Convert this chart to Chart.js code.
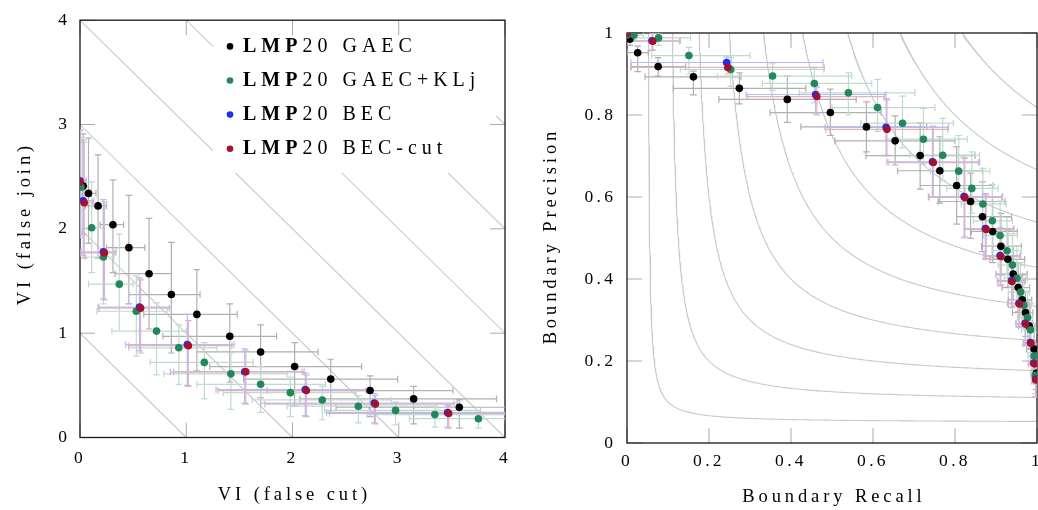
<!DOCTYPE html>
<html>
<head>
<meta charset="utf-8">
<script src="https://cdn.jsdelivr.net/npm/chart.js@4.4.1/dist/chart.umd.min.js"></script>
<style>
  html, body { margin:0; padding:0; background:#ffffff; width:1038px; height:510px; overflow:hidden; }
  canvas { position:absolute; top:0; }
  #viChart { left:0; }
  #bdChart { left:520px; }
</style>
</head>
<body>
<canvas id="viChart" width="520" height="510"></canvas>
<canvas id="bdChart" width="545" height="510"></canvas>
<script>
// ---------------- ticks / labels ----------------
const viTicks = [0, 1, 2, 3, 4];
const viTickLabels = ['0', '1', '2', '3', '4'];
const bdTicks = [0, 0.2, 0.4, 0.6, 0.8, 1];
const bdTickLabels = ['0', '0.2', '0.4', '0.6', '0.8', '1'];
const viSumLevels = [1, 2, 3, 4, 5, 6, 7];          // iso lines  cut + join = c
const fLevels = [0.1, 0.2, 0.3, 0.4, 0.5, 0.6, 0.7, 0.8, 0.9]; // iso F-measure curves
const legendBold = 'LMP';
const legendRest = ['20 GAEC', '20 GAEC+KLj', '20 BEC', '20 BEC-cut'];
const viTitleX = 'VI (false cut)';
const viTitleY = 'VI (false join)';
const bdTitleX = 'Boundary Recall';
const bdTitleY = 'Boundary Precision';

// ---------------- left panel: VI ----------------
const viGaecCut    = [0.03,0.08,0.17,0.31,0.46,0.65,0.86,1.10,1.41,1.70,2.02,2.36,2.73,3.14,3.57];
const viGaecJoin   = [2.41,2.34,2.22,2.04,1.82,1.57,1.37,1.18,0.97,0.82,0.68,0.56,0.45,0.37,0.29];
const viGaecCutLo  = [0.00,0.02,0.05,0.19,0.25,0.33,0.46,0.60,0.78,1.10,1.22,1.54,1.76,2.07,2.41];
const viGaecCutHi  = [0.08,0.15,0.25,0.41,0.61,0.86,1.13,1.48,1.85,2.24,2.65,2.99,3.51,3.92,4.30];
const viGaecJoinLo = [1.95,1.86,1.72,1.58,1.28,1.04,0.81,0.64,0.53,0.38,0.30,0.23,0.20,0.13,0.09];
const viGaecJoinHi = [2.91,2.87,2.71,2.47,2.32,2.10,1.87,1.61,1.28,1.08,0.91,0.75,0.59,0.49,0.36];

const viKljCut    = [0.01,0.11,0.22,0.37,0.53,0.72,0.93,1.17,1.42,1.70,1.98,2.28,2.62,2.97,3.34,3.75];
const viKljJoin   = [2.40,2.01,1.73,1.47,1.21,1.02,0.86,0.72,0.61,0.51,0.43,0.36,0.30,0.26,0.22,0.18];
const viKljCutLo  = [0.00,0.03,0.05,0.08,0.16,0.30,0.46,0.66,0.79,1.10,1.35,1.62,1.95,2.30,2.70,3.10];
const viKljCutHi  = [0.05,0.22,0.32,0.50,0.82,1.00,1.29,1.63,1.95,2.31,2.60,2.93,3.36,3.77,4.10,4.40];
const viKljJoinLo = [1.92,1.58,1.28,1.02,0.78,0.60,0.51,0.37,0.27,0.24,0.20,0.17,0.14,0.12,0.10,0.09];
const viKljJoinHi = [2.88,2.45,2.20,1.95,1.55,1.29,1.08,0.91,0.81,0.68,0.58,0.49,0.40,0.34,0.29,0.24];

const viBecCut    = [0.00,0.03,0.22,0.56,1.01,1.55,2.12,2.77,3.46];
const viBecJoin   = [2.46,2.27,1.78,1.25,0.89,0.63,0.46,0.33,0.24];
const viBecCutLo  = [0.00,0.00,0.01,0.17,0.43,0.85,1.28,1.70,2.32];
const viBecCutHi  = [0.06,0.13,0.34,0.86,1.45,2.11,2.72,3.55,4.10];
const viBecJoinLo = [1.96,1.74,1.33,0.83,0.50,0.33,0.21,0.14,0.10];
const viBecJoinHi = [2.95,2.85,2.28,1.53,1.18,0.85,0.62,0.42,0.31];

const viBcutCut    = [0.00,0.04,0.23,0.57,1.02,1.56,2.13,2.78,3.47];
const viBcutJoin   = [2.45,2.25,1.77,1.24,0.88,0.63,0.45,0.32,0.23];
const viBcutCutLo  = [0.00,0.00,0.01,0.18,0.46,0.88,1.30,1.74,2.35];
const viBcutCutHi  = [0.05,0.12,0.33,0.84,1.43,2.09,2.69,3.52,4.07];
const viBcutJoinLo = [1.95,1.72,1.32,0.81,0.49,0.32,0.20,0.13,0.09];
const viBcutJoinHi = [2.94,2.83,2.26,1.51,1.12,0.83,0.60,0.40,0.30];

// ---------------- right panel: boundary P/R ----------------
const bdGaecRec    = [0.007,0.026,0.076,0.162,0.274,0.391,0.496,0.584,0.654,0.715,0.763,0.804,0.838,0.867,0.892,0.912,0.929,0.942,0.954,0.964,0.972,0.981,0.993,0.998];
const bdGaecPrec   = [0.985,0.952,0.918,0.893,0.865,0.838,0.806,0.771,0.737,0.701,0.664,0.628,0.589,0.552,0.516,0.480,0.448,0.412,0.379,0.349,0.318,0.285,0.229,0.170];
const bdGaecRecLo  = [0.000,0.000,0.009,0.044,0.113,0.224,0.349,0.424,0.507,0.583,0.660,0.715,0.759,0.804,0.840,0.865,0.885,0.900,0.915,0.930,0.940,0.955,0.975,0.985];
const bdGaecRecHi  = [0.020,0.052,0.143,0.278,0.436,0.559,0.620,0.731,0.800,0.849,0.867,0.893,0.922,0.938,0.952,0.962,0.970,0.976,0.982,0.987,0.990,0.995,1.000,1.000];
const bdGaecPrecLo = [0.970,0.906,0.895,0.849,0.827,0.782,0.750,0.710,0.678,0.619,0.585,0.534,0.499,0.467,0.440,0.410,0.380,0.350,0.320,0.290,0.260,0.230,0.180,0.130];
const bdGaecPrecHi = [1.000,0.968,0.940,0.907,0.903,0.895,0.863,0.832,0.798,0.781,0.747,0.723,0.658,0.637,0.600,0.560,0.520,0.480,0.440,0.410,0.370,0.340,0.280,0.210];

const bdKljRec    = [0.000,0.017,0.077,0.151,0.253,0.355,0.457,0.540,0.611,0.672,0.723,0.770,0.809,0.841,0.868,0.891,0.910,0.927,0.940,0.951,0.960,0.968,0.977,0.984,0.993,0.996];
const bdKljPrec   = [0.995,0.995,0.988,0.945,0.911,0.895,0.877,0.854,0.818,0.780,0.741,0.702,0.663,0.621,0.583,0.542,0.506,0.469,0.434,0.402,0.368,0.336,0.306,0.276,0.212,0.165];
const bdKljRecLo  = [0.000,0.000,0.020,0.060,0.130,0.220,0.330,0.420,0.500,0.570,0.630,0.690,0.740,0.780,0.815,0.845,0.870,0.890,0.905,0.920,0.930,0.940,0.952,0.962,0.978,0.985];
const bdKljRecHi  = [0.020,0.040,0.155,0.300,0.480,0.548,0.597,0.702,0.751,0.796,0.830,0.860,0.885,0.905,0.925,0.940,0.952,0.962,0.970,0.976,0.982,0.986,0.990,0.995,1.000,1.000];
const bdKljPrecLo = [0.985,0.985,0.970,0.900,0.870,0.860,0.830,0.800,0.760,0.720,0.680,0.640,0.600,0.560,0.520,0.480,0.450,0.410,0.380,0.350,0.310,0.280,0.250,0.220,0.160,0.120];
const bdKljPrecHi = [1.000,1.000,1.000,0.965,0.940,0.925,0.915,0.903,0.887,0.846,0.816,0.792,0.750,0.710,0.670,0.630,0.590,0.550,0.510,0.480,0.440,0.400,0.370,0.340,0.270,0.210];

const bdBecRec    = [0.000,0.061,0.243,0.460,0.632,0.745,0.822,0.874,0.910,0.938,0.956,0.971,0.984,0.992,0.997];
const bdBecPrec   = [1.000,0.981,0.928,0.850,0.770,0.686,0.601,0.523,0.457,0.396,0.341,0.292,0.245,0.195,0.156];
const bdBecRecLo  = [0.000,0.000,0.010,0.290,0.483,0.634,0.735,0.822,0.870,0.903,0.928,0.948,0.966,0.979,0.987];
const bdBecRecHi  = [0.022,0.130,0.478,0.632,0.784,0.860,0.916,0.944,0.960,0.972,0.981,0.989,0.996,1.000,1.000];
const bdBecPrecLo = [0.984,0.957,0.912,0.803,0.700,0.600,0.500,0.448,0.383,0.330,0.282,0.237,0.192,0.144,0.111];
const bdBecPrecHi = [1.000,1.000,0.942,0.872,0.840,0.771,0.697,0.608,0.525,0.456,0.405,0.348,0.295,0.242,0.197];

const bdBcutRec    = [0.000,0.063,0.246,0.463,0.634,0.747,0.824,0.876,0.912,0.939,0.957,0.972,0.985,0.993,0.997];
const bdBcutPrec   = [1.000,0.980,0.916,0.845,0.765,0.684,0.599,0.521,0.455,0.394,0.339,0.290,0.243,0.193,0.154];
const bdBcutRecLo  = [0.000,0.000,0.010,0.294,0.485,0.637,0.737,0.824,0.873,0.905,0.930,0.950,0.968,0.980,0.988];
const bdBcutRecHi  = [0.020,0.128,0.481,0.628,0.782,0.857,0.914,0.942,0.958,0.970,0.980,0.988,0.995,1.000,1.000];
const bdBcutPrecLo = [0.985,0.959,0.900,0.800,0.702,0.600,0.503,0.450,0.385,0.332,0.284,0.239,0.194,0.146,0.113];
const bdBcutPrecHi = [1.000,1.000,0.930,0.868,0.837,0.773,0.694,0.605,0.522,0.453,0.402,0.345,0.292,0.239,0.194];

// ---------------- styles ----------------
const markerColors = ['#000000', '#22875a', '#1f2ef0', '#a50f30'];
const barColors    = ['#b0b0b0', '#bddccd', '#b9b9f7', '#dfb3c3'];
const isoColor = '#c9c9c9';
const SERIF = '"Liberation Serif", "Times New Roman", serif';
const TICK_LEN = 15;
const CAP = 3.3;

function setLS(ctx, px) { if ('letterSpacing' in ctx) ctx.letterSpacing = px + 'px'; }

function pts(xs, ys) { return xs.map((x, i) => ({ x: x, y: ys[i] })); }

function errSeries(label, idx, xs, ys, xlo, xhi, ylo, yhi, order, frameBefore) {
  return {
    label: label, data: pts(xs, ys),
    err: { xlo: xlo, xhi: xhi, ylo: ylo, yhi: yhi },
    barColor: barColors[idx],
    backgroundColor: markerColors[idx], borderColor: markerColors[idx],
    borderWidth: 0, pointRadius: 3.8, pointHoverRadius: 3.8,
    showLine: false, order: order, frameBefore: !!frameBefore
  };
}

function isoLine(points) {
  return { data: points, showLine: true, pointRadius: 0, borderColor: isoColor,
           borderWidth: 1.1, fill: false, tension: 0, clip: 0, order: 20 };
}

function drawErrorBars(chart, ds) {
  const ctx = chart.ctx, a = chart.chartArea, xs = chart.scales.x, ys = chart.scales.y;
  ctx.save();
  ctx.beginPath(); ctx.rect(a.left, a.top, a.right - a.left, a.bottom - a.top); ctx.clip();
  ctx.strokeStyle = ds.barColor; ctx.lineWidth = 1.2;
  ctx.beginPath();
  ds.data.forEach((p, i) => {
    const px = xs.getPixelForValue(p.x), py = ys.getPixelForValue(p.y);
    const x0 = xs.getPixelForValue(ds.err.xlo[i]), x1 = xs.getPixelForValue(ds.err.xhi[i]);
    const y0 = ys.getPixelForValue(ds.err.ylo[i]), y1 = ys.getPixelForValue(ds.err.yhi[i]);
    ctx.moveTo(x0, py); ctx.lineTo(x1, py);
    ctx.moveTo(x0, py - CAP); ctx.lineTo(x0, py + CAP);
    ctx.moveTo(x1, py - CAP); ctx.lineTo(x1, py + CAP);
    ctx.moveTo(px, y0); ctx.lineTo(px, y1);
    ctx.moveTo(px - CAP, y0); ctx.lineTo(px + CAP, y0);
    ctx.moveTo(px - CAP, y1); ctx.lineTo(px + CAP, y1);
  });
  ctx.stroke();
  ctx.restore();
}

function drawFrame(chart, xTicks, yTicks) {
  const ctx = chart.ctx, a = chart.chartArea, xs = chart.scales.x, ys = chart.scales.y;
  ctx.save();
  ctx.strokeStyle = '#ababab'; ctx.lineWidth = 1;
  ctx.beginPath();
  xTicks.forEach(v => {
    const px = xs.getPixelForValue(v);
    ctx.moveTo(px, a.bottom); ctx.lineTo(px, a.bottom - TICK_LEN);
    ctx.moveTo(px, a.top); ctx.lineTo(px, a.top + TICK_LEN);
  });
  yTicks.forEach(v => {
    const py = ys.getPixelForValue(v);
    ctx.moveTo(a.left, py); ctx.lineTo(a.left + TICK_LEN, py);
    ctx.moveTo(a.right, py); ctx.lineTo(a.right - TICK_LEN, py);
  });
  ctx.stroke();
  ctx.strokeStyle = '#1a1a1a'; ctx.lineWidth = 1.3;
  ctx.strokeRect(a.left, a.top, a.right - a.left, a.bottom - a.top);
  ctx.restore();
}

function drawLegendBox(ctx) {
  ctx.save(); ctx.fillStyle = '#ffffff'; ctx.fillRect(213, 13.5, 283, 159.5); ctx.restore();
}

function drawLegendContent(ctx) {
  ctx.save();
  setLS(ctx, 5);
  ctx.textAlign = 'left'; ctx.textBaseline = 'alphabetic';
  for (let i = 0; i < legendRest.length; i++) {
    const base = 51.7 + i * 34.1;
    ctx.fillStyle = markerColors[i];
    ctx.beginPath(); ctx.arc(230, base - 5.3, 3.3, 0, Math.PI * 2); ctx.fill();
    ctx.fillStyle = '#000';
    ctx.font = 'bold 20px ' + SERIF;
    ctx.fillText(legendBold, 243, base);
    const w = ctx.measureText(legendBold).width;
    ctx.font = '20px ' + SERIF;
    ctx.fillText(legendRest[i], 243 + w, base);
  }
  ctx.restore();
}

function drawTitle(ctx, text, c, base, rotate) {
  ctx.save();
  ctx.font = '18.5px ' + SERIF; setLS(ctx, 3.9);
  ctx.fillStyle = '#000'; ctx.textAlign = 'left'; ctx.textBaseline = 'alphabetic';
  const w = ctx.measureText(text).width - 3.9;
  if (rotate) { ctx.translate(base, c); ctx.rotate(-Math.PI / 2); ctx.fillText(text, -w / 2, 0); }
  else { ctx.fillText(text, c - w / 2, base); }
  ctx.restore();
}

function decor(xTicks, yTicks, withLegend, titles) {
  return {
    id: 'decor',
    beforeDraw(chart) { setLS(chart.ctx, 3.3); },
    beforeDatasetDraw(chart, args) {
      const ds = chart.data.datasets[args.index];
      if (!ds.frameBefore) return;
      if (withLegend) drawLegendBox(chart.ctx);
      drawFrame(chart, xTicks, yTicks);
      if (withLegend) drawLegendContent(chart.ctx);
      // error bars of every series, under all markers (back to front)
      chart.data.datasets.filter(d => d.err)
        .sort((p, q) => q.order - p.order)
        .forEach(d => drawErrorBars(chart, d));
    },
    afterDraw(chart) {
      titles.forEach(t => drawTitle(chart.ctx, t.text, t.c, t.base, t.rotate));
      setLS(chart.ctx, 0);
    }
  };
}

function axis(min, max, tickVals, tickLabels, padding, fitFn) {
  return {
    type: 'linear', min: min, max: max,
    afterBuildTicks: s => { s.ticks = tickVals.map(v => ({ value: v })); },
    ticks: { autoSkip: false, maxRotation: 0, padding: padding, color: '#000',
             font: { family: SERIF, size: 17.5 },
             callback: (v, i) => tickLabels[i] },
    grid: { display: false, drawTicks: false },
    border: { display: false },
    afterFit: fitFn
  };
}

Chart.defaults.font.family = SERIF;

// ---------------- left chart ----------------
const viDatasets = viSumLevels.map(c => isoLine([
  { x: Math.max(0, c - 4), y: Math.min(4, c) },
  { x: Math.min(4, c), y: Math.max(0, c - 4) }
]));
viDatasets.push(
  errSeries('LMP20 GAEC', 0, viGaecCut, viGaecJoin, viGaecCutLo, viGaecCutHi, viGaecJoinLo, viGaecJoinHi, 4, true),
  errSeries('LMP20 GAEC+KLj', 1, viKljCut, viKljJoin, viKljCutLo, viKljCutHi, viKljJoinLo, viKljJoinHi, 3),
  errSeries('LMP20 BEC', 2, viBecCut, viBecJoin, viBecCutLo, viBecCutHi, viBecJoinLo, viBecJoinHi, 2),
  errSeries('LMP20 BEC-cut', 3, viBcutCut, viBcutJoin, viBcutCutLo, viBcutCutHi, viBcutJoinLo, viBcutJoinHi, 1)
);

new Chart(document.getElementById('viChart'), {
  type: 'scatter',
  data: { datasets: viDatasets },
  options: {
    responsive: false, animation: false, devicePixelRatio: 1,
    layout: { padding: { top: 13.5, right: 15, left: 0, bottom: 0 } },
    plugins: { legend: { display: false }, tooltip: { enabled: false } },
    events: [],
    scales: {
      x: axis(0, 4, viTicks, viTickLabels, 10.6, s => { s.height = 72.5; }),
      y: axis(0, 4, viTicks, viTickLabels, 9.7, s => { s.width = 80; })
    }
  },
  plugins: [decor(viTicks, viTicks, true, [
    { text: viTitleX, c: 292.5, base: 500, rotate: false },
    { text: viTitleY, c: 225.5, base: 29.5, rotate: true }
  ])]
});

// ---------------- right chart ----------------
const bdDatasets = fLevels.map(f => {
  const r0 = f / (2 - f);
  const curve = [];
  for (let k = 0; k <= 240; k++) {
    const u = k / 240;
    const r = r0 + (1 - r0) * u * u * u;
    curve.push({ x: r, y: f * r / (2 * r - f) });
  }
  return isoLine(curve);
});
bdDatasets.push(
  errSeries('LMP20 GAEC', 0, bdGaecRec, bdGaecPrec, bdGaecRecLo, bdGaecRecHi, bdGaecPrecLo, bdGaecPrecHi, 4, true),
  errSeries('LMP20 GAEC+KLj', 1, bdKljRec, bdKljPrec, bdKljRecLo, bdKljRecHi, bdKljPrecLo, bdKljPrecHi, 3),
  errSeries('LMP20 BEC', 2, bdBecRec, bdBecPrec, bdBecRecLo, bdBecRecHi, bdBecPrecLo, bdBecPrecHi, 2),
  errSeries('LMP20 BEC-cut', 3, bdBcutRec, bdBcutPrec, bdBcutRecLo, bdBcutRecHi, bdBcutPrecLo, bdBcutPrecHi, 1)
);

new Chart(document.getElementById('bdChart'), {
  type: 'scatter',
  data: { datasets: bdDatasets },
  options: {
    responsive: false, animation: false, devicePixelRatio: 1,
    layout: { padding: { top: 33, right: 28, left: 0, bottom: 0 } },
    plugins: { legend: { display: false }, tooltip: { enabled: false } },
    events: [],
    scales: {
      x: axis(0, 1, bdTicks, bdTickLabels, 7.6, s => { s.height = 67; }),
      y: axis(0, 1, bdTicks, bdTickLabels, 10.7, s => { s.width = 107; })
    }
  },
  plugins: [decor(bdTicks, bdTicks, false, [
    { text: bdTitleX, c: 312, base: 502, rotate: false },
    { text: bdTitleY, c: 238, base: 36, rotate: true }
  ])]
});
</script>
</body>
</html>
